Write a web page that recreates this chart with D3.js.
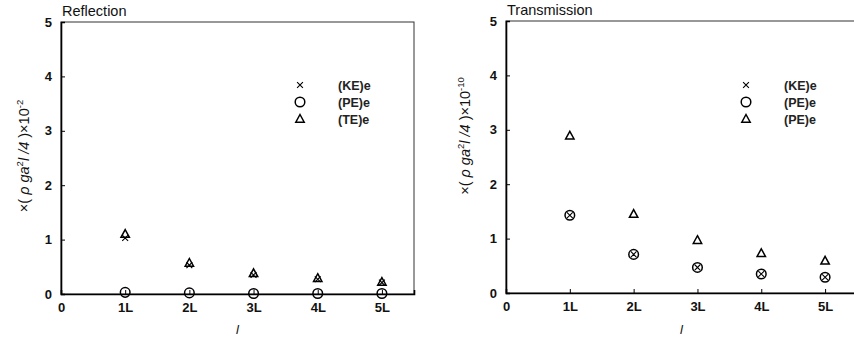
<!DOCTYPE html>
<html><head><meta charset="utf-8">
<script src="https://cdn.jsdelivr.net/npm/d3@7"></script>
<style>body{margin:0;background:#fff;overflow:hidden}svg{display:block;font-family:"Liberation Sans",Arial,sans-serif}</style>
</head><body>
<script>
const categories = ["1L","2L","3L","4L","5L"];
const xTickLabels = ["0","1L","2L","3L","4L","5L"];
const yTicks = [0,1,2,3,4,5];
const reflKE = [1.03,0.53,0.35,0.27,0.21];
const reflPE = [0.03,0.02,0.01,0.01,0.01];
const reflTE = [1.10,0.57,0.38,0.29,0.22];
const transKE = [1.43,0.71,0.47,0.35,0.29];
const transPE = [1.43,0.71,0.47,0.35,0.29];
const transTE = [2.89,1.45,0.97,0.73,0.59];

const svg = d3.select("body").append("svg").attr("width",854).attr("height",341);

function panel(cfg){
  const x = d3.scaleLinear().domain([0,5.5]).range([cfg.x0,cfg.x1]);
  const y = d3.scaleLinear().domain([0,5]).range([cfg.y0,cfg.y1]);
  const g = svg.append("g");
  g.append("rect").attr("x",cfg.x0).attr("y",cfg.y1).attr("width",cfg.x1-cfg.x0).attr("height",cfg.y0-cfg.y1)
    .attr("fill","none").attr("stroke","#333").attr("stroke-width",1);
  const xa = d3.axisBottom(x).tickValues(d3.range(0,6)).tickFormat((d,i)=>xTickLabels[i]).tickSize(-4).tickPadding(9);
  const ya = d3.axisLeft(y).tickValues(yTicks).tickFormat(d3.format("d")).tickSize(-4).tickPadding(9);
  const gx = g.append("g").attr("transform",`translate(0,${cfg.y0})`).call(xa);
  const gy = g.append("g").attr("transform",`translate(${cfg.x0},0)`).call(ya);
  [gx,gy].forEach(a=>{
    a.select(".domain").attr("stroke","#000").attr("stroke-width",1.6);
    a.selectAll(".tick line").attr("stroke","#000").attr("stroke-width",1);
    a.selectAll("text").attr("font-size",13).attr("font-weight","bold").attr("fill","#111").style("font-family","Liberation Sans, Arial, sans-serif");
  });
  gx.selectAll(".tick").filter(d=>d===0).select("line").remove();
  g.append("text").attr("x",cfg.x0+1).attr("y",cfg.y1-6).attr("font-size",14.5).attr("fill","#111").text(cfg.title);
  g.append("text").attr("x",x(2.75)).attr("y",334).attr("font-size",13).attr("font-style","italic").attr("text-anchor","middle").attr("fill","#111").text("l");
  const yl = g.append("text").attr("transform",`translate(${cfg.ylx},${cfg.yly}) rotate(-90)`)
    .attr("text-anchor","middle").attr("font-size",14.5).attr("fill","#111");
  yl.append("tspan").text("×( ");
  yl.append("tspan").attr("font-style","italic").text("ρ ga");
  yl.append("tspan").attr("font-size",9.5).attr("dy",-6).text("2");
  yl.append("tspan").attr("font-style","italic").attr("dy",6).text("l /4");
  yl.append("tspan").text(" )×10");
  yl.append("tspan").attr("font-size",9.5).attr("dy",-6).text(cfg.exp);

  const sym = {
    x: (sel)=>sel.append("path").attr("d",d3.symbol(d3.symbolX,24)()).attr("fill","none").attr("stroke","#000").attr("stroke-width",1.1),
    o: (sel)=>sel.append("circle").attr("r",4.8).attr("fill","none").attr("stroke","#000").attr("stroke-width",1.5),
    t: (sel)=>sel.append("path").attr("d","M0,-4.5L4.2,3.2L-4.2,3.2Z").attr("fill","none").attr("stroke","#000").attr("stroke-width",1.5)
  };
  cfg.series.forEach(s=>{
    categories.forEach((c,i)=>{
      const m = g.append("g").attr("transform",`translate(${x(i+1)},${y(s.values[i])})`);
      sym[s.sym](m);
    });
  });
  cfg.series.forEach((s,i)=>{
    const ly = cfg.legY + i*17;
    const m = g.append("g").attr("transform",`translate(${cfg.legMx},${ly})`);
    sym[s.sym](m);
    g.append("text").attr("x",cfg.legTx).attr("y",ly+4.5).attr("font-size",12.5).attr("font-weight","bold").attr("fill","#222").text(s.name);
  });
}

panel({x0:61,x1:414,y0:294,y1:22,title:"Reflection",exp:"-2",ylx:29,yly:156,
  legMx:300,legTx:338,legY:85,
  series:[{name:"(KE)e",sym:"x",values:reflKE},{name:"(PE)e",sym:"o",values:reflPE},{name:"(TE)e",sym:"t",values:reflTE}]});
panel({x0:506,x1:857,y0:293,y1:21,title:"Transmission",exp:"-10",ylx:470,yly:136,
  legMx:746,legTx:784,legY:85,
  series:[{name:"(KE)e",sym:"x",values:transKE},{name:"(PE)e",sym:"o",values:transPE},{name:"(PE)e",sym:"t",values:transTE}]});
</script>
</body></html>
